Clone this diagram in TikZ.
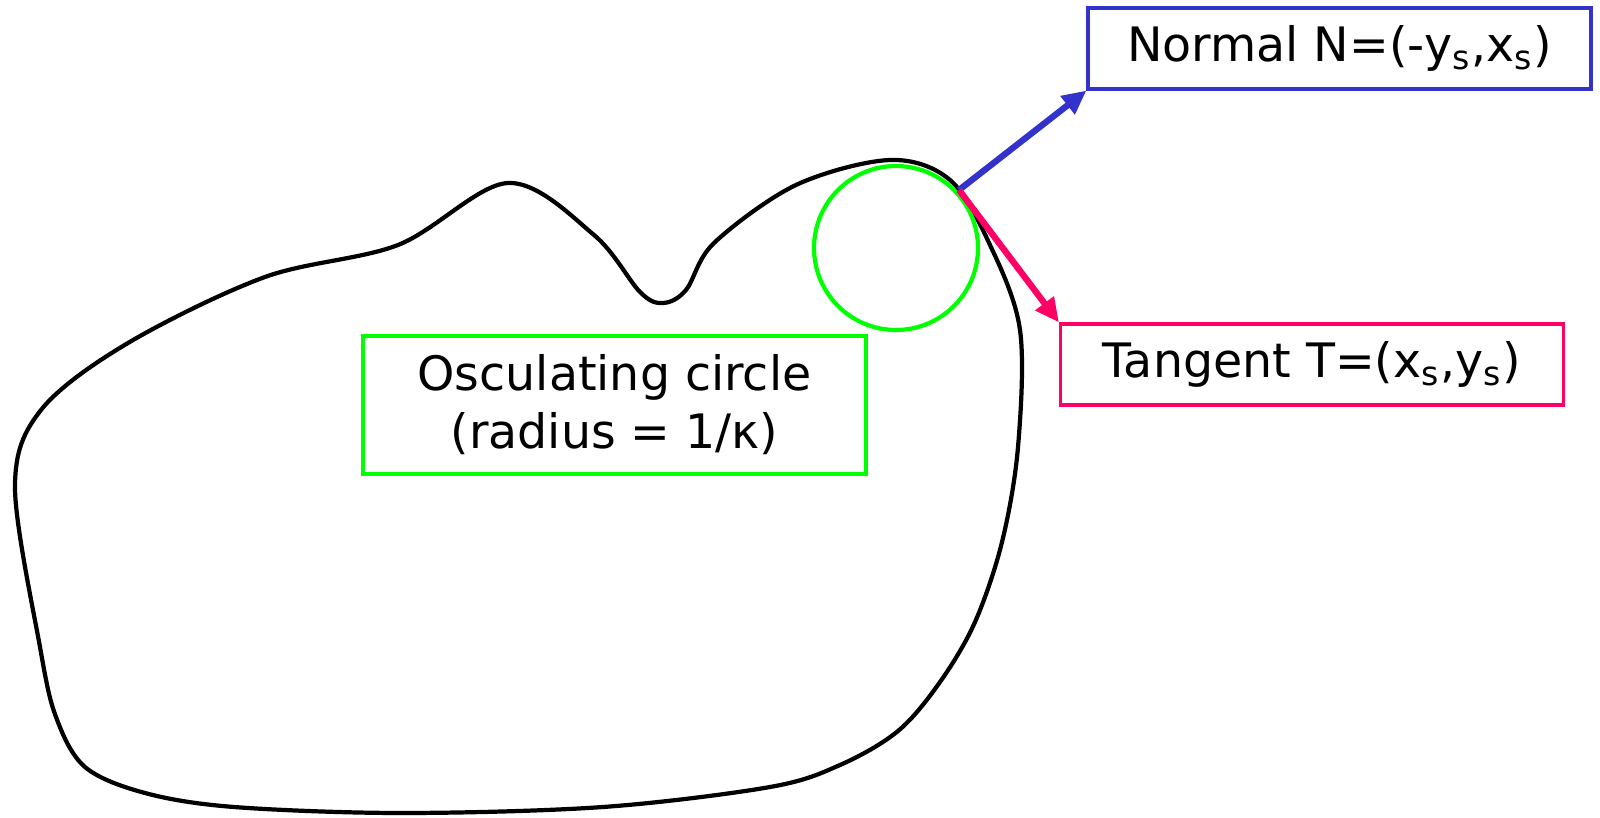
\documentclass[tikz,border=0pt]{standalone}
\usepackage{fontspec}
\setmainfont{DejaVu Sans}
\usepackage{xcolor}
\usetikzlibrary{arrows.meta}
\usetikzlibrary{positioning}

\definecolor{normblue}{RGB}{51,51,204}
\definecolor{tanpink}{RGB}{255,0,102}
\definecolor{oscgreen}{RGB}{0,255,0}

\begin{document}
\begin{tikzpicture}[
  every node/.style={font=\fontsize{13.5}{16.5}\selectfont},
  lbl/.style={draw, rectangle, line width=0.9pt, minimum height=0.81cm, minimum width=5.03cm, inner sep=2pt},
  vec/.style={-{Triangle[length=0.24cm, width=0.22cm]}, line width=1.8pt}
]
\useasboundingbox (0,0) rectangle (16,8.17);

% Closed curve
\draw[line width=1.2pt] plot[smooth cycle, tension=0.55] coordinates {
  (8.90,6.57) (9.50,6.37) (9.90,5.72) (10.20,4.87) (10.18,3.70) (10.02,2.75)
  (9.75,1.95) (9.40,1.35) (8.98,0.86) (8.40,0.52) (7.70,0.30) (6.03,0.10)
  (4.02,0.04) (2.34,0.10) (1.45,0.24) (0.85,0.50) (0.56,1.00) (0.40,1.70)
  (0.15,3.30) (0.41,4.07) (1.28,4.74) (2.65,5.40) (3.98,5.72) (5.08,6.34)
  (5.94,5.82) (6.40,5.25) (6.63,5.14) (6.86,5.27) (7.14,5.74) (7.96,6.32)};

% Osculating circle and point of contact
\node[draw=oscgreen, circle, line width=1.2pt, minimum size=1.64cm, inner sep=0pt] (osc) at (8.96, 5.69) {};
\coordinate (contact) at (9.59, 6.27);

% Labels
\node[lbl, draw=normblue] (normal)  at (13.395, 7.685) {Normal N=(-y\textsubscript{s},x\textsubscript{s})};
\node[lbl, draw=tanpink]  (tangent) at (13.12, 4.525) {Tangent T=(x\textsubscript{s},y\textsubscript{s})};
\node[lbl, draw=oscgreen, minimum height=1.38cm, align=center] (osclbl) at (6.145, 4.12) {Osculating circle\\(radius = 1/κ)};

% Vectors
\draw[vec, normblue] (contact) -- (normal.south west);
\draw[vec, tanpink]  (contact) -- (tangent.north west);
\end{tikzpicture}
\end{document}
